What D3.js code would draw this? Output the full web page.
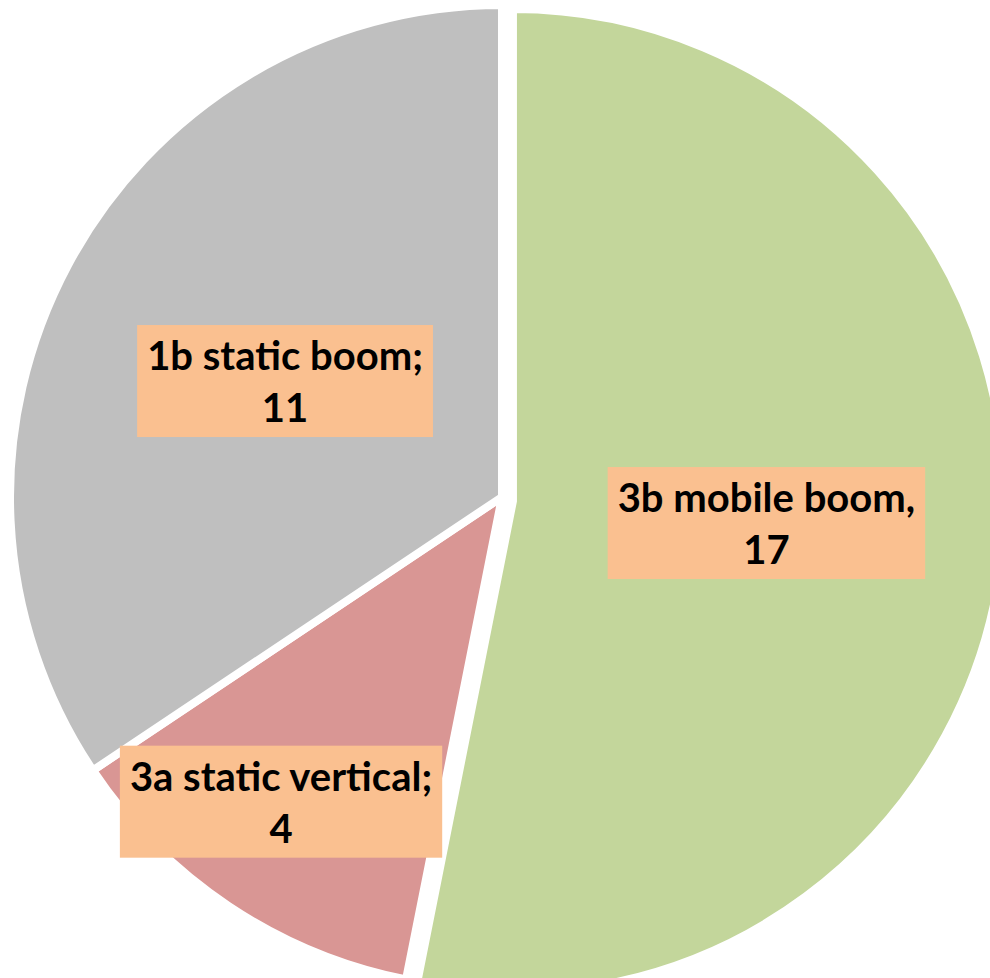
<!DOCTYPE html>
<html>
<head>
<meta charset="utf-8">
<script src="https://cdn.jsdelivr.net/npm/d3@7"></script>
<style>
  html, body { margin: 0; padding: 0; background: #fff; }
  svg { display: block; }
</style>
</head>
<body>
<div id="chart"></div>
<script>
// slice data, clockwise from 12 o'clock
const categories = ["3b mobile boom", "3a static vertical", "1b static boom"];
const values = [17, 4, 11];
const separators = [",", ";", ";"];
const colors = ["#C3D69B", "#D99694", "#BFBFBF"];
const exploded = [true, false, false];
const labelRadius = [0.54, 0.765, 0.5];
const labelAngleShift = [0, 2.2, 0]; // degrees

const width = 990, height = 978;
const cx = 502, cy = 497, radius = 492;
const explodeBy = 11;

const data = categories.map((c, i) => ({
  name: c, value: values[i], sep: separators[i], color: colors[i],
  exploded: exploded[i], lr: labelRadius[i], la: labelAngleShift[i]
}));

const svg = d3.select("#chart").append("svg")
  .attr("width", width)
  .attr("height", height);

const g = svg.append("g")
  .attr("transform", `translate(${cx},${cy})`);

const pie = d3.pie().value(d => d.value).sort(null);
const arcs = pie(data);

const arc = d3.arc().innerRadius(0).outerRadius(radius);

function dir(a) { return [Math.sin(a), -Math.cos(a)]; }

g.selectAll(".slice")
  .data(arcs)
  .enter().append("path")
  .attr("class", "slice")
  .attr("d", arc)
  .attr("transform", d => {
    if (!d.data.exploded) return null;
    const [dx, dy] = dir((d.startAngle + d.endAngle) / 2);
    return `translate(${dx * explodeBy},${dy * explodeBy + 3})`;
  })
  .attr("fill", d => d.data.color)
  .attr("stroke", "#fff")
  .attr("stroke-width", 8)
  .attr("stroke-linejoin", "miter");

const labels = g.selectAll(".label")
  .data(arcs)
  .enter().append("g")
  .attr("class", "label")
  .attr("transform", d => {
    const a = (d.startAngle + d.endAngle) / 2 + d.data.la * Math.PI / 180;
    const [dx, dy] = dir(a);
    const r = radius * d.data.lr;
    return `translate(${dx * r},${dy * r})`;
  });

labels.each(function(d) {
  const lg = d3.select(this);
  const rect = lg.append("rect").attr("fill", "#FAC090");
  const text = lg.append("text")
    .attr("text-anchor", "middle")
    .style("font-family", "Lato, 'Open Sans', sans-serif")
    .style("font-weight", "bold")
    .style("font-size", "40px")
    .attr("fill", "#000");
  text.append("tspan").attr("x", 0).attr("y", -11).text(d.data.name + d.data.sep);
  text.append("tspan").attr("x", 0).attr("y", 41).text(d.data.value);
  const bb = text.node().getBBox();
  const padX = 10, padY = 6;
  rect.attr("x", bb.x - padX)
    .attr("y", bb.y - padY)
    .attr("width", bb.width + padX * 2)
    .attr("height", bb.height + padY * 2);
});
</script>
</body>
</html>
